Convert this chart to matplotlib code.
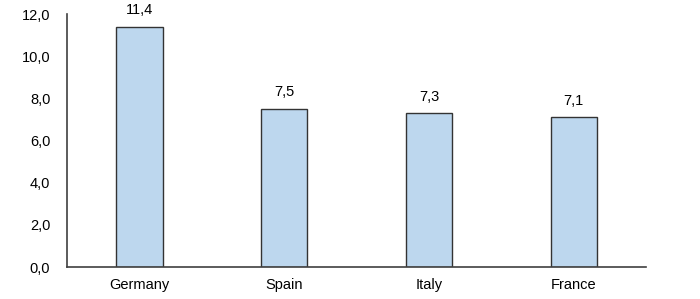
import matplotlib.pyplot as plt
from matplotlib.ticker import FuncFormatter

countries = ['Germany', 'Spain', 'Italy', 'France']
values = [11.4, 7.5, 7.3, 7.1]

plt.rcParams['font.family'] = ['Liberation Sans', 'DejaVu Sans']

fig = plt.figure(figsize=(7, 2.99), dpi=100)
ax = fig.add_axes([0.0957, 0.107, 0.8273, 0.846])

x = range(len(countries))
ax.bar(x, values, width=0.32, color='#bdd7ee', edgecolor='#333333', linewidth=1.0)

for xi, v in zip(x, values):
    ax.text(xi, v + 0.45, f'{v:.1f}'.replace('.', ','), ha='center', va='bottom', fontsize=10.5)

ax.set_xlim(-0.5, len(countries) - 0.5)
ax.set_ylim(0, 12)
ax.set_yticks(range(0, 13, 2))
ax.yaxis.set_major_formatter(FuncFormatter(lambda v, p: f'{v:.1f}'.replace('.', ',')))
ax.set_xticks(list(x))
ax.set_xticklabels(countries)
ax.tick_params(length=0, labelsize=10.5, colors='#000000')
ax.tick_params(axis='y', pad=12)
ax.tick_params(axis='x', pad=8)

for s in ['top', 'right']:
    ax.spines[s].set_visible(False)
for s in ['left', 'bottom']:
    ax.spines[s].set_color('#404040')
    ax.spines[s].set_linewidth(1.2)

fig.savefig('out.png', dpi=100)
